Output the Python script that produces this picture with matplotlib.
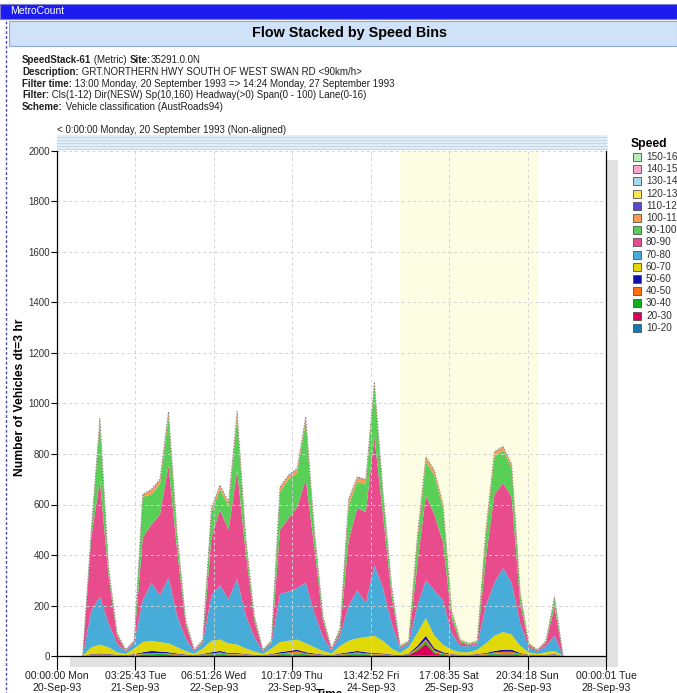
import matplotlib
matplotlib.use('Agg')
from matplotlib import pyplot as plt
from matplotlib.patches import Rectangle
from matplotlib.lines import Line2D
import numpy as np

plt.rcParams['font.family'] = ['Liberation Sans', 'DejaVu Sans']

# 3 hour bins, hours after 00:00 Monday 20-Sep-93
hours = list(range(9, 178, 3))

spd_10_20 = [0,1,1,1,1,0,1,1,2,1, 1,1,1,0,1,1,2,1,1,1, 1,0,1,1,2,2,1,1,1,0,
             1,1,2,1,1,1,1,0,1,2, 3,2,1,1,1,1,1,1,2,2, 2,1,1,0,1,1,0]
spd_20_30 = [0,1,2,1,1,1,1,3,3,3, 3,2,1,1,1,3,3,2,2,1, 1,1,1,3,3,3,3,2,1,1,
             2,3,3,3,2,2,1,1,3,18, 45,8,3,1,1,1,1,2,3,4, 4,2,1,1,1,1,0]
spd_30_40 = [0,2,2,2,1,1,2,3,3,4, 3,2,1,1,3,3,4,3,3,2, 1,1,2,3,4,5,3,2,1,1,
             2,3,4,3,3,2,1,1,2,6, 10,6,3,2,1,1,2,3,4,5, 5,3,1,1,1,2,0]
spd_40_50 = [0,2,2,2,1,0,2,3,3,4, 3,2,1,0,1,3,5,3,3,2, 1,0,2,3,5,9,3,2,1,0,
             2,3,5,3,3,2,1,0,2,6, 8,6,3,2,1,1,2,3,5,6, 6,3,1,0,1,2,0]
spd_50_60 = [0,2,3,2,1,1,2,5,9,6, 5,3,2,1,2,5,6,3,3,2, 1,1,2,5,6,6,5,3,2,1,
             3,5,6,5,3,3,2,1,2,8, 14,8,5,2,1,1,2,3,6,8, 8,3,1,1,1,2,0]
spd_60_70 = [0,27,35,27,10,5,22,40,40,37, 35,25,14,5,22,45,45,38,33,22,
             13,5,22,40,40,40,35,25,14,7, 30,45,50,60,68,50,24,9,25,50,
             70,50,30,17,10,10,17,38,60,70, 60,28,10,5,10,12,0]
spd_70_80 = [0,145,190,95,35,10,22,165,230,185, 260,125,50,10,22,180,215,175,260,130,
             57,10,20,190,195,205,240,135,55,12, 40,140,190,135,280,210,100,18,15,110,
             150,180,175,65,25,23,20,150,210,253, 205,90,20,10,25,60,0]
spd_80_90 = [0,290,462,190,30,4,6,250,230,320, 445,260,55,4,4,230,298,275,430,250,
             65,4,5,255,290,320,410,260,65,5, 15,260,326,360,508,290,110,6,5,160,
             337,300,230,60,15,6,7,190,350,337, 340,80,9,4,12,115,0]
spd_90_100 = [0,22,228,25,8,2,2,160,120,120, 190,50,13,2,6,100,82,95,210,45,
              15,2,3,150,155,135,230,55,15,2, 10,135,104,110,202,80,30,2,3,90,
              133,155,135,22,7,4,5,90,150,130, 115,30,4,2,6,33,0]
spd_100_110 = [0,7,13,8,3,1,2,9,16,16, 19,13,5,1,3,12,13,11,19,11, 5,1,4,16,13,14,14,11,5,1,
               5,21,16,16,12,9,9,2,2,16, 15,16,11,7,3,2,3,16,16,11, 11,9,2,1,2,6,0]
spd_110_120 = [0,1,2,1,0,0,0,1,2,2, 2,2,0,0,0,2,2,2,2,2, 0,0,0,2,2,2,2,2,0,0,
               0,2,2,2,2,1,1,0,0,2, 2,2,2,1,0,0,0,2,2,2, 2,1,0,0,0,1,0]
spd_120_130 = [0,0,1,0,0,0,0,0,1,1, 1,1,0,0,0,1,1,1,1,1, 0,0,0,1,1,1,1,1,0,0,
               0,1,1,1,1,0,0,0,0,1, 1,1,1,0,0,0,0,1,1,1, 1,0,0,0,0,0,0]
spd_130_140 = [0,0,1,0,0,0,0,0,1,1, 1,1,0,0,0,1,1,1,1,1, 0,0,0,1,1,1,1,1,0,0,
               0,1,1,1,1,0,0,0,0,1, 1,1,1,0,0,0,0,1,1,1, 1,0,0,0,0,0,0]
spd_140_150 = [0] * 57
spd_150_160 = [0] * 57

bins = ['10-20', '20-30', '30-40', '40-50', '50-60', '60-70', '70-80', '80-90',
        '90-100', '100-110', '110-120', '120-130', '130-140', '140-150', '150-160']
series = [spd_10_20, spd_20_30, spd_30_40, spd_40_50, spd_50_60, spd_60_70, spd_70_80,
          spd_80_90, spd_90_100, spd_100_110, spd_110_120, spd_120_130, spd_130_140,
          spd_140_150, spd_150_160]
colors = ['#1078b8', '#d80058', '#10b020', '#ff7010', '#1010a8', '#e0d808', '#48acd8',
          '#e84c8c', '#58d058', '#ff9a50', '#5a48d0', '#ffe45a', '#a8d8f0', '#f5a8c8',
          '#b4f0b4']

xtick_labels = ['00:00:00 Mon\n20-Sep-93', '03:25:43 Tue\n21-Sep-93', '06:51:26 Wed\n22-Sep-93',
                '10:17:09 Thu\n23-Sep-93', '13:42:52 Fri\n24-Sep-93', '17:08:35 Sat\n25-Sep-93',
                '20:34:18 Sun\n26-Sep-93', '00:00:01 Tue\n28-Sep-93']

header = [
    [('SpeedStack-61', True), (' (Metric) ', False), ('Site:', True), ('35291.0.0N', False)],
    [('Description:', True), (' GRT.NORTHERN HWY SOUTH OF WEST SWAN RD <90km/h>', False)],
    [('Filter time:', True), (' 13:00 Monday, 20 September 1993 => 14:24 Monday, 27 September 1993', False)],
    [('Filter:', True), (' Cls(1-12) Dir(NESW) Sp(10,160) Headway(>0) Span(0 - 100) Lane(0-16)', False)],
    [('Scheme:', True), (' Vehicle classification (AustRoads94)', False)],
]

W, H = 677, 693
fig = plt.figure(figsize=(W / 100, H / 100), dpi=100)

def fx(px):
    return px / W

def fy(py):
    return 1 - py / H

def frect(x0, y0, x1, y1, **kw):
    fig.add_artist(Rectangle((fx(x0), fy(y1)), (x1 - x0) / W, (y1 - y0) / H,
                             transform=fig.transFigure, **kw))

# window chrome
frect(0, 4, 677, 19, facecolor='#1c1cf0', edgecolor='#8080d0', lw=0.8, zorder=-2)
fig.text(fx(10), fy(11.5), 'MetroCount', color='white', fontsize=7.5, va='center')
frect(9, 21, 677, 46, facecolor='#cfe2f7', edgecolor='#8fa8cc', lw=0.8, zorder=-2)
fig.text(fx(350), fy(33), 'Flow Stacked by Speed Bins', fontsize=10.4, fontweight='bold',
         ha='center', va='center')
fig.add_artist(Line2D([fx(6), fx(6)], [fy(21), 0], transform=fig.transFigure,
                      color='#4848a8', lw=1, ls=(0, (2, 1.5))))

r = fig.canvas.get_renderer()
for i, segs in enumerate(header):
    x = 22
    y = 60 + i * 11.8
    for s, bold in segs:
        t = fig.text(fx(x), fy(y), s, fontsize=7, va='center',
                     fontweight='bold' if bold else 'normal', color='#202020')
        x += t.get_window_extent(renderer=r).width

fig.text(fx(57), fy(130), '< 0:00:00 Monday, 20 September 1993 (Non-aligned)',
         fontsize=7, va='center', color='#202020')

# striped band above the plot
frect(57, 135, 607, 150, facecolor='#e4eef6', edgecolor='none', zorder=-1)
for yy in [137, 140, 143, 146, 149]:
    fig.add_artist(Line2D([fx(57), fx(607)], [fy(yy), fy(yy)], transform=fig.transFigure,
                          color='#c2d8ec', lw=0.8, zorder=-1))

# 3d shadow strips
frect(70, 657, 618, 667, facecolor='#e2e2e2', edgecolor='none', zorder=-1)
frect(607, 160, 618, 667, facecolor='#e2e2e2', edgecolor='none', zorder=-1)

ax = fig.add_axes([fx(57), fy(656), (606 - 57) / W, (656 - 151) / H])
ax.set_xlim(0, 192)
ax.set_ylim(0, 2000)
ax.axvspan(120, 168, color='#fdfde4', zorder=0)
ax.stackplot(hours, *series, colors=colors, lw=0, zorder=2)
ax.plot(hours, np.sum(series, axis=0), color='#808080', lw=0.8, ls=':', zorder=3)

ax.set_xticks(np.linspace(0, 192, 8))
ax.set_xticklabels(xtick_labels, fontsize=7.6, color='#202020', linespacing=1.2)
ax.set_yticks(range(0, 2001, 200))
ax.tick_params(axis='y', labelsize=7, labelcolor='#303030', length=4, width=0.8, pad=1)
ax.tick_params(axis='x', length=10, width=0.8, pad=1)
ax.grid(True, color='#d4d4d4', lw=0.7, ls=(0, (3, 3)))
ax.set_axisbelow(False)
for l in ax.get_xgridlines() + ax.get_ygridlines():
    l.set_zorder(3)
ax.spines['top'].set_visible(False)
for s in ['left', 'bottom', 'right']:
    ax.spines[s].set_linewidth(0.9)
    ax.spines[s].set_zorder(4)

fig.text(fx(20), fy(397), 'Number of Vehicles dt=3 hr', rotation=90, fontsize=8.7,
         fontweight='bold', ha='center', va='center')
fig.text(fx(330), fy(689), 'Time', fontsize=8.5, fontweight='bold', ha='center', va='top')

# legend (labels run off the right edge as in the original window)
fig.text(fx(631), fy(144), 'Speed', fontsize=8.7, fontweight='bold', va='center')
for k in range(len(bins)):
    j = len(bins) - 1 - k
    yc = 157 + k * 12.2
    frect(633, yc - 4, 641, yc + 4, facecolor=colors[j], edgecolor='#505050', lw=0.6)
    fig.text(fx(646), fy(yc), bins[j], fontsize=7.2, va='center', color='#303030')

fig.savefig('out.png', dpi=100)
